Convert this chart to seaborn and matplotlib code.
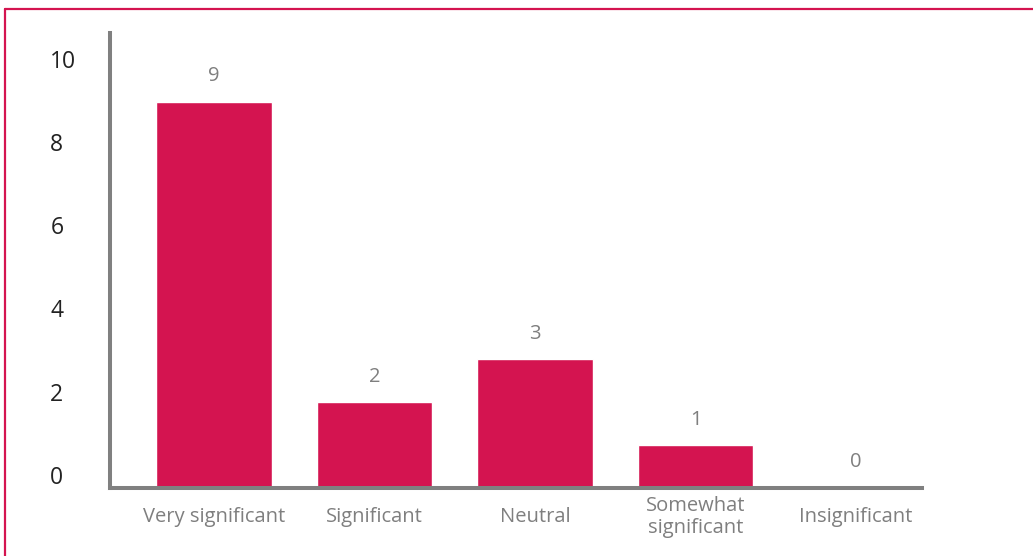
import matplotlib
matplotlib.use("Agg")
import matplotlib.pyplot as plt
import matplotlib.transforms as mtransforms
from matplotlib.lines import Line2D
import seaborn as sns
import pandas as pd

# Survey responses: how significant the factor was rated
categories = ["Very significant", "Significant", "Neutral", "Somewhat\nsignificant", "Insignificant"]
counts = [9, 2, 3, 1, 0]
y_ticks = [0, 2, 4, 6, 8, 10]

BAR_COLOR = "#D41450"
AXIS_GREY = "#808080"
LABEL_GREY = "#7f7f7f"

sns.set_style("white")
plt.rcParams["font.family"] = ["Open Sans", "DejaVu Sans"]

df = pd.DataFrame({"category": categories, "count": counts})

fig = plt.figure(figsize=(10.33, 5.56), dpi=100)
ax = fig.add_axes([0.1065, 0.1228, 0.786, 0.8178])

sns.barplot(data=df, x="category", y="count", color=BAR_COLOR,
            width=0.72, saturation=1, ax=ax)

ax.set_xlim(-0.648, 4.41)
ax.set_ylim(0, 10.6)
ax.set_yticks(y_ticks)
ax.set_yticklabels([str(t) for t in y_ticks])
ax.set_xlabel("")
ax.set_ylabel("")

# Axis styling: only the left and bottom spines, thick grey
sns.despine(ax=ax, top=True, right=True)
for side in ("left", "bottom"):
    ax.spines[side].set_color(AXIS_GREY)
    ax.spines[side].set_linewidth(2.9)
    ax.spines[side].set_capstyle("projecting")

ax.tick_params(axis="both", length=0)
ax.tick_params(axis="y", labelsize=16.5, labelcolor="#222222", pad=43)
ax.tick_params(axis="x", labelsize=14.5, labelcolor=LABEL_GREY, pad=21)

# y labels left-aligned; lower labels sit a little above their value
for lbl, t in zip(ax.get_yticklabels(), y_ticks):
    lift_px = 13 * (max(y_ticks) - t) / max(y_ticks)
    lift = mtransforms.ScaledTranslation(0, lift_px / 100, fig.dpi_scale_trans)
    lbl.set_horizontalalignment("left")
    lbl.set_transform(lbl.get_transform() + lift)

for lbl in ax.get_xticklabels():
    lbl.set_verticalalignment("center")
    lbl.set_linespacing(1.1)

# Value labels above each bar
for container in ax.containers:
    ax.bar_label(container, labels=[str(v) for v in counts], padding=11,
                 fontsize=14.5, color=LABEL_GREY)

# Thin crimson frame along the top and left edges of the figure
frame_kw = dict(color=BAR_COLOR, linewidth=1.6, transform=fig.transFigure)
fig.add_artist(Line2D([5 / 1033, 1.0], [1 - 9 / 556, 1 - 9 / 556], **frame_kw))
fig.add_artist(Line2D([5 / 1033, 5 / 1033], [0.0, 1 - 9 / 556], **frame_kw))

fig.savefig("out.png", dpi=100)
